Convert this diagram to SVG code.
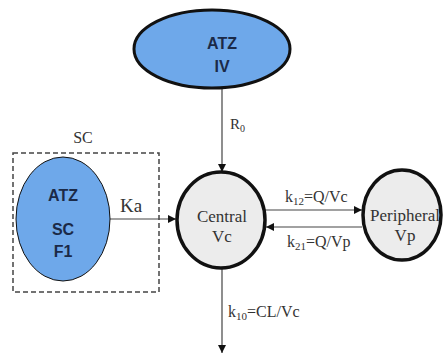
<svg xmlns="http://www.w3.org/2000/svg" width="443" height="356" viewBox="0 0 443 356">
<style>
.blue{fill:#6ea8ea;stroke:#111;}
.comp{fill:#ececec;stroke:#111;stroke-width:3.5;}
.lbl{font-family:"Liberation Serif",serif;fill:#333;}
.atz{font-family:"Liberation Sans",Arial,sans-serif;font-weight:bold;fill:#1b2a48;font-size:16px;text-anchor:middle;}
.ln{stroke:#444;stroke-width:1.2;fill:none;}
</style>
<defs>
<marker id="ah" viewBox="0 0 10 10" refX="10" refY="5" markerWidth="8" markerHeight="8" markerUnits="userSpaceOnUse" orient="auto">
<path d="M0,0 L10,5 L0,10 z" fill="#111"/>
</marker>
</defs>
<rect width="443" height="356" fill="#fff"/>
<g id="sc-box">
<rect x="13" y="153" width="146" height="139" fill="none" stroke="#444" stroke-width="1.5" stroke-dasharray="5,3"/>
<text class="lbl" x="83" y="143" font-size="16" text-anchor="middle">SC</text>
</g>
<g id="connectors">
<line class="ln" x1="222" y1="89" x2="222" y2="172" marker-end="url(#ah)"/>
<text class="lbl" x="230" y="129" font-size="15">R<tspan font-size="10" dy="3">0</tspan></text>
<line class="ln" x1="110" y1="219" x2="176" y2="219" marker-end="url(#ah)"/>
<text class="lbl" x="120" y="212" font-size="19">Ka</text>
<line class="ln" x1="265" y1="210" x2="362" y2="210" marker-end="url(#ah)"/>
<text class="lbl" x="285" y="202" font-size="16">k<tspan font-size="11" dy="3">12</tspan><tspan dy="-3">=Q/Vc</tspan></text>
<line class="ln" x1="362" y1="227" x2="266" y2="227" marker-end="url(#ah)"/>
<text class="lbl" x="287" y="247" font-size="16">k<tspan font-size="11" dy="3">21</tspan><tspan dy="-3">=Q/Vp</tspan></text>
<line class="ln" x1="222" y1="269" x2="222" y2="353" marker-end="url(#ah)"/>
<text class="lbl" x="228" y="317" font-size="16">k<tspan font-size="11" dy="3">10</tspan><tspan dy="-3">=CL/Vc</tspan></text>
</g>
<g id="atz-iv">
<ellipse class="blue" cx="212" cy="49" rx="78" ry="39" stroke-width="3"/>
<text class="atz" x="222" y="49">ATZ</text>
<text class="atz" x="222" y="72">IV</text>
</g>
<g id="atz-sc">
<ellipse class="blue" cx="63" cy="219" rx="47" ry="62" stroke-width="1"/>
<text class="atz" x="63" y="201">ATZ</text>
<text class="atz" x="63" y="235">SC</text>
<text class="atz" x="63" y="257">F1</text>
</g>
<g id="central">
<ellipse class="comp" cx="221" cy="220" rx="44" ry="48"/>
<text class="lbl" x="222" y="222" font-size="17" text-anchor="middle">Central</text>
<text class="lbl" x="222" y="242" font-size="17" text-anchor="middle">Vc</text>
</g>
<g id="peripheral">
<ellipse class="comp" cx="402" cy="215" rx="39" ry="45"/>
<text class="lbl" x="405" y="221" font-size="17" text-anchor="middle">Peripheral</text>
<text class="lbl" x="405" y="241" font-size="17" text-anchor="middle">Vp</text>
</g>
</svg>
